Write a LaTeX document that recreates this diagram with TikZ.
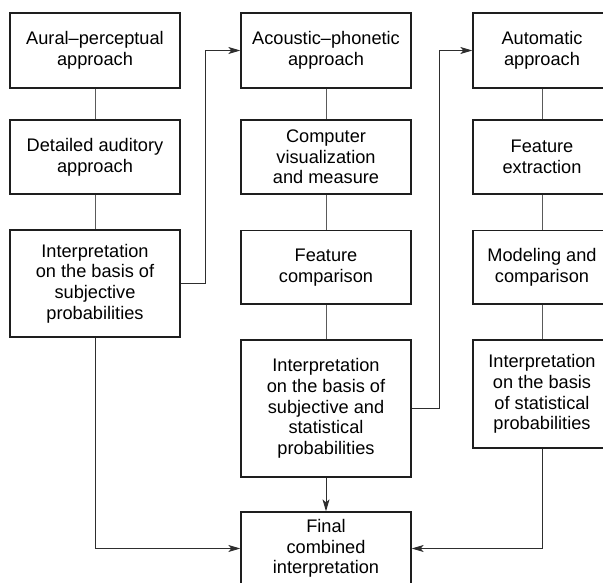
\documentclass[tikz,border=0pt]{standalone}
\usepackage{fontspec}
\setmainfont{Liberation Sans}
\usetikzlibrary{arrows.meta}
\definecolor{boxline}{HTML}{1E1E1E}
\definecolor{connline}{HTML}{5A5A5A}
\definecolor{arrline}{HTML}{2E2E2E}
\begin{document}
\begin{tikzpicture}[x=1pt,y=-1pt,
  box/.style={draw=boxline,line width=1.3pt,align=center,inner sep=0pt,
    font=\fontsize{18.2}{20.7}\selectfont,text=black},
  conn/.style={draw=connline,line width=1pt},
  arr/.style={draw=arrline,line width=1pt,-{Stealth[length=12pt,width=7pt,inset=3pt]}}]
\useasboundingbox (0,0) rectangle (603,583);
\begin{scope}
\clip (0,0) rectangle (603,583);
% column 1
\node[box,minimum width=170pt,minimum height=75pt] (a1) at (95,50.5) {Aural\textendash perceptual\\approach};
\node[box,minimum width=170pt,minimum height=74pt] (a2) at (95,157) {Detailed auditory\\approach};
\node[box,minimum width=170pt,minimum height=107pt] (a3) at (95,283.5) {Interpretation\\on the basis of\\subjective\\probabilities};
% column 2
\node[box,minimum width=170pt,minimum height=75pt] (b1) at (326,50.5) {Acoustic\textendash phonetic\\approach};
\node[box,minimum width=170pt,minimum height=74pt] (b2) at (326,157) {Computer\\visualization\\and measure};
\node[box,minimum width=170pt,minimum height=73.5pt] (b3) at (326,267.3) {Feature\\comparison};
\node[box,minimum width=170pt,minimum height=137pt] (b4) at (326,408.5) {Interpretation\\on the basis of\\subjective and\\statistical\\probabilities};
% column 3
\node[box,minimum width=138pt,minimum height=75pt] (c1) at (542,50.5) {Automatic\\approach};
\node[box,minimum width=138pt,minimum height=74pt] (c2) at (542,157) {Feature\\extraction};
\node[box,minimum width=138pt,minimum height=73.5pt] (c3) at (542,267.3) {Modeling and\\comparison};
\node[box,minimum width=138pt,minimum height=108pt] (c4) at (542,394) {Interpretation\\on the basis\\of statistical\\probabilities};
% final
\node[box,minimum width=170pt,minimum height=73pt] (f) at (326,548.5) {Final\\combined\\interpretation};
\end{scope}
% elbow turning points
\coordinate (k1) at (205.5,0);
\coordinate (k2) at (439,0);
% vertical connectors
\draw[conn] (a1) -- (a2);
\draw[conn] (a2) -- (a3);
\draw[conn] (b1) -- (b2);
\draw[conn] (b2) -- (b3);
\draw[conn] (b3) -- (b4);
\draw[conn] (c1) -- (c2);
\draw[conn] (c2) -- (c3);
\draw[conn] (c3) -- (c4);
% arrows
\draw[arr] (a3.east) -| (k1 |- b1.west) -- (b1.west);
\draw[arr] (b4.east) -| (k2 |- c1.west) -- (c1.west);
\draw[arr] (b4) -- (f);
\draw[arr] (a3.south) |- (f.west);
\draw[arr] (c4.south) |- (f.east);
\end{tikzpicture}
\end{document}
